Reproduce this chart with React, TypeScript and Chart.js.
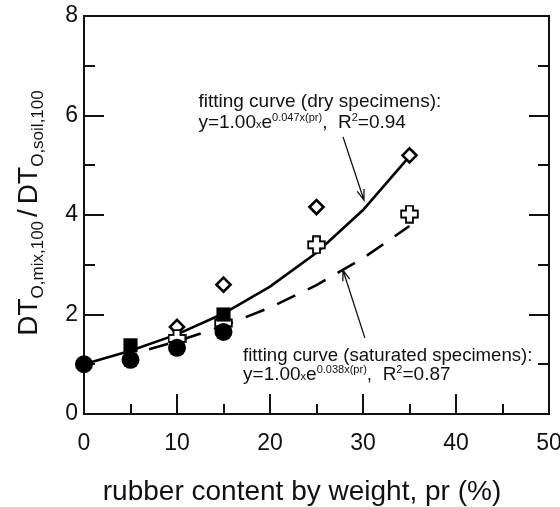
import React, { useEffect, useRef } from "react";
import { Chart, registerables } from "chart.js";

Chart.register(...registerables);

const FONT = '"Liberation Sans", Arial, Helvetica, sans-serif';

// axis ranges / ticks
const xRange = [0, 50];
const yRange = [0, 8];
const xMajorStep = 10;
const xMinorStep = 5;
const yMajorStep = 2;
const yMinorStep = 1;

// measured points
const filledCircleX = [0, 5, 10, 15];
const filledCircleY = [1.0, 1.09, 1.33, 1.65];
const filledSquareX = [5, 15];
const filledSquareY = [1.38, 2.0];
const openDiamondX = [10, 15, 25, 35];
const openDiamondY = [1.75, 2.6, 4.16, 5.2];
const openCrossX = [10, 15, 25, 35];
const openCrossY = [1.52, 1.83, 3.4, 4.02];

// fitting curves
const dryCurveX = [0, 5, 10, 15, 20, 25, 30, 35];
const dryCurveY = [1.0, 1.27, 1.6, 2.02, 2.56, 3.24, 4.1, 5.18];
const satCurveX = [7, 10, 15, 20, 25, 30, 35];
const satCurveY = [1.3, 1.46, 1.77, 2.14, 2.59, 3.13, 3.78];

// texts
const xTitle = "rubber content by weight, pr (%)";
const dryLabel1 = "fitting curve (dry specimens):";
const dryCoefText = "0.047x(pr)";
const dryR2Text = "=0.94";
const satLabel1 = "fitting curve (saturated specimens):";
const satCoefText = "0.038x(pr)";
const satR2Text = "=0.87";

// annotation anchors in data units
const dryTextAt = [12.3, 6.17, 5.75];
const satTextAt = [17.1, 1.07, 0.69];
const dryArrow = [27.85, 5.57, 30.1, 4.3];
const satArrow = [30.2, 1.53, 27.85, 2.89];

const pts = (xs: number[], ys: number[]) => xs.map((x, i) => ({ x, y: ys[i] }));

function makeCross(size: number, arm: number, lw: number) {
  const c = document.createElement("canvas");
  c.width = size;
  c.height = size;
  const g = c.getContext("2d")!;
  const h = size / 2;
  const a = arm / 2;
  const e = h - lw / 2 - 0.3;
  g.beginPath();
  g.moveTo(h - a, h - e);
  g.lineTo(h + a, h - e);
  g.lineTo(h + a, h - a);
  g.lineTo(h + e, h - a);
  g.lineTo(h + e, h + a);
  g.lineTo(h + a, h + a);
  g.lineTo(h + a, h + e);
  g.lineTo(h - a, h + e);
  g.lineTo(h - a, h + a);
  g.lineTo(h - e, h + a);
  g.lineTo(h - e, h - a);
  g.lineTo(h - a, h - a);
  g.closePath();
  g.fillStyle = "#fff";
  g.fill();
  g.lineWidth = lw;
  g.strokeStyle = "#000";
  g.lineJoin = "miter";
  g.stroke();
  return c;
}

type Run = { t: string; size: number; dy?: number; gap?: number };

function runsWidth(ctx: CanvasRenderingContext2D, runs: Run[]) {
  let w = 0;
  for (const r of runs) {
    ctx.font = `${r.size}px ${FONT}`;
    w += ctx.measureText(r.t).width + (r.gap || 0);
  }
  return w;
}

function drawRuns(ctx: CanvasRenderingContext2D, runs: Run[], x: number, y: number) {
  let cx = x;
  ctx.textAlign = "left";
  ctx.textBaseline = "alphabetic";
  for (const r of runs) {
    ctx.font = `${r.size}px ${FONT}`;
    ctx.fillText(r.t, cx, y + (r.dy || 0));
    cx += ctx.measureText(r.t).width + (r.gap || 0);
  }
}

function arrow(ctx: CanvasRenderingContext2D, x1: number, y1: number, x2: number, y2: number) {
  ctx.save();
  ctx.strokeStyle = "#111";
  ctx.lineWidth = 1.3;
  ctx.beginPath();
  ctx.moveTo(x1, y1);
  ctx.lineTo(x2, y2);
  const ang = Math.atan2(y2 - y1, x2 - x1);
  const L = 11;
  const spread = 0.33;
  ctx.moveTo(x2 - L * Math.cos(ang - spread), y2 - L * Math.sin(ang - spread));
  ctx.lineTo(x2, y2);
  ctx.lineTo(x2 - L * Math.cos(ang + spread), y2 - L * Math.sin(ang + spread));
  ctx.stroke();
  ctx.restore();
}

const decorPlugin = {
  id: "decor",
  beforeDatasetsDraw(chart: any) {
    const { ctx, chartArea: ca, scales } = chart;
    const xs = scales.x;
    const ys = scales.y;
    ctx.save();
    ctx.strokeStyle = "#111";
    ctx.lineWidth = 2;
    ctx.strokeRect(ca.left, ca.top, ca.right - ca.left, ca.bottom - ca.top);
    ctx.beginPath();
    for (let v = xRange[0] + xMinorStep; v < xRange[1]; v += xMinorStep) {
      const px = Math.round(xs.getPixelForValue(v));
      const len = v % xMajorStep === 0 ? 20 : 10;
      ctx.moveTo(px, ca.bottom);
      ctx.lineTo(px, ca.bottom - len);
    }
    for (let v = yRange[0] + yMinorStep; v < yRange[1]; v += yMinorStep) {
      const py = Math.round(ys.getPixelForValue(v));
      const len = v % yMajorStep === 0 ? 20 : 11;
      ctx.moveTo(ca.left, py);
      ctx.lineTo(ca.left + len, py);
      ctx.moveTo(ca.right, py);
      ctx.lineTo(ca.right - len, py);
    }
    ctx.stroke();
    ctx.restore();
  },
  afterDraw(chart: any) {
    const { ctx, scales } = chart;
    const xs = scales.x;
    const ys = scales.y;
    ctx.save();
    ctx.fillStyle = "#111";

    // x title
    ctx.font = `28px ${FONT}`;
    ctx.textAlign = "center";
    ctx.textBaseline = "alphabetic";
    ctx.fillText(xTitle, 302, 500);

    // y title (rotated)
    const yRuns: Run[] = [
      { t: "DT", size: 28 },
      { t: "O,mix,100", size: 17, dy: 6, gap: 4 },
      { t: "/", size: 28, gap: 5 },
      { t: "DT", size: 28 },
      { t: "O,soil,100", size: 17, dy: 6 },
    ];
    ctx.save();
    ctx.translate(37, 213);
    ctx.rotate(-Math.PI / 2);
    const w = runsWidth(ctx, yRuns);
    drawRuns(ctx, yRuns, -w / 2, 0);
    ctx.restore();

    const line2 = (coef: string, r2: string): Run[] => [
      { t: "y=1.00", size: 19 },
      { t: "x", size: 11 },
      { t: "e", size: 19 },
      { t: coef, size: 11, dy: -7 },
      { t: ",  R", size: 19 },
      { t: "2", size: 11, dy: -7 },
      { t: r2, size: 19 },
    ];

    // dry annotation
    const dx = xs.getPixelForValue(dryTextAt[0]);
    drawRuns(ctx, [{ t: dryLabel1, size: 19 }], dx, ys.getPixelForValue(dryTextAt[1]));
    drawRuns(ctx, line2(dryCoefText, dryR2Text), dx, ys.getPixelForValue(dryTextAt[2]));

    // saturated annotation
    const sx = xs.getPixelForValue(satTextAt[0]);
    drawRuns(ctx, [{ t: satLabel1, size: 18.6 }], sx, ys.getPixelForValue(satTextAt[1]));
    drawRuns(ctx, line2(satCoefText, satR2Text), sx, ys.getPixelForValue(satTextAt[2]));

    arrow(
      ctx,
      xs.getPixelForValue(dryArrow[0]),
      ys.getPixelForValue(dryArrow[1]),
      xs.getPixelForValue(dryArrow[2]),
      ys.getPixelForValue(dryArrow[3])
    );
    arrow(
      ctx,
      xs.getPixelForValue(satArrow[0]),
      ys.getPixelForValue(satArrow[1]),
      xs.getPixelForValue(satArrow[2]),
      ys.getPixelForValue(satArrow[3])
    );
    ctx.restore();
  },
};

export default function App() {
  const ref = useRef<HTMLCanvasElement>(null);
  useEffect(() => {
    if (!ref.current) return;
    const cross = makeCross(19, 7, 1.8);
    const chart = new Chart(ref.current, {
      type: "scatter",
      data: {
        datasets: [
          {
            label: "dry fit",
            type: "line",
            data: pts(dryCurveX, dryCurveY),
            borderColor: "#000",
            borderWidth: 2.6,
            pointRadius: 0,
            tension: 0,
            fill: false,
            order: 10,
            clip: false,
          } as any,
          {
            label: "saturated fit",
            type: "line",
            data: pts(satCurveX, satCurveY),
            borderColor: "#000",
            borderWidth: 2.6,
            borderDash: [20, 14],
            pointRadius: 0,
            tension: 0,
            fill: false,
            order: 9,
            clip: false,
          } as any,
          {
            label: "dry (open diamond)",
            data: pts(openDiamondX, openDiamondY),
            pointStyle: "rectRot",
            pointRadius: 7,
            borderWidth: 2.6,
            borderColor: "#000",
            backgroundColor: "#fff",
            order: 5,
            clip: false,
          } as any,
          {
            label: "saturated (open cross)",
            data: pts(openCrossX, openCrossY),
            pointStyle: cross,
            pointRadius: 9,
            order: 4,
            clip: false,
          } as any,
          {
            label: "filled square",
            data: pts(filledSquareX, filledSquareY),
            pointStyle: "rect",
            pointRadius: 10,
            borderWidth: 0,
            borderColor: "#000",
            backgroundColor: "#000",
            order: 3,
            clip: false,
          } as any,
          {
            label: "filled circle",
            data: pts(filledCircleX, filledCircleY),
            pointStyle: "circle",
            pointRadius: 9,
            borderWidth: 0,
            borderColor: "#000",
            backgroundColor: "#000",
            order: 2,
            clip: false,
          } as any,
        ],
      },
      options: {
        animation: false,
        responsive: false,
        devicePixelRatio: 1,
        layout: { padding: { top: 16, right: 11, left: 0, bottom: 0 } },
        plugins: { legend: { display: false }, tooltip: { enabled: false } },
        scales: {
          x: {
            type: "linear",
            min: xRange[0],
            max: xRange[1],
            ticks: {
              stepSize: xMajorStep,
              font: { size: 23, family: FONT },
              color: "#111",
              padding: 16,
              maxRotation: 0,
            },
            grid: { display: false, drawTicks: false },
            border: { display: false },
            afterFit: (s: any) => {
              s.height = 93;
              s.paddingLeft = 0;
              s.paddingRight = 0;
            },
          },
          y: {
            type: "linear",
            min: yRange[0],
            max: yRange[1],
            ticks: {
              stepSize: yMajorStep,
              font: { size: 23, family: FONT },
              color: "#111",
              padding: 6,
            },
            grid: { display: false, drawTicks: false },
            border: { display: false },
            afterFit: (s: any) => {
              s.width = 84;
              s.paddingTop = 0;
              s.paddingBottom = 0;
            },
          },
        },
      } as any,
      plugins: [decorPlugin],
    });
    return () => chart.destroy();
  }, []);
  return (
    <div style={{ position: "absolute", left: 0, top: 0, width: 560, height: 507, background: "#fff" }}>
      <canvas ref={ref} width={560} height={507} style={{ width: 560, height: 507 }} />
    </div>
  );
}
